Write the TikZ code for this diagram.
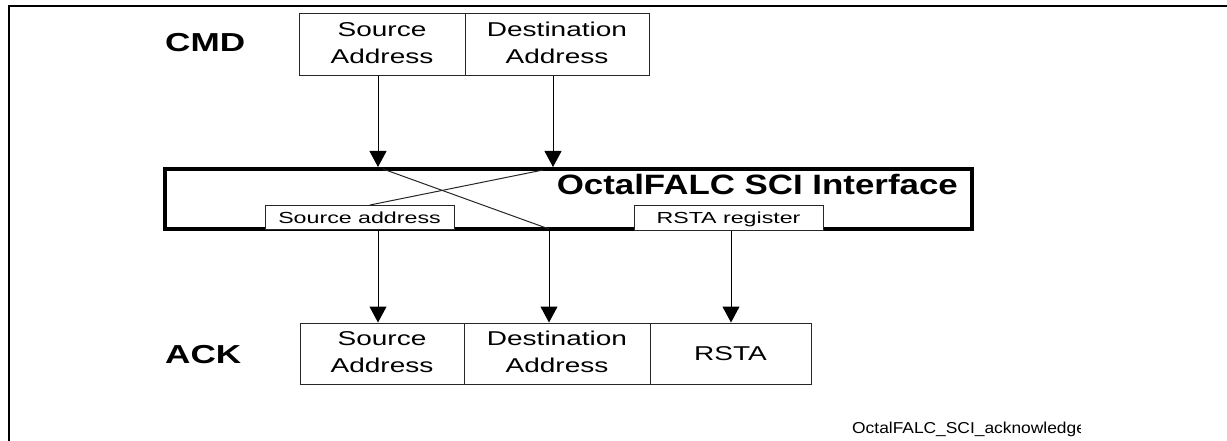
\documentclass[tikz,border=0pt]{standalone}
\usepackage{fontspec}
\setmainfont{Liberation Sans}
\usepackage{graphicx}
\usetikzlibrary{arrows.meta}
\newcommand{\hs}[2]{\scalebox{#1}[1]{#2}}
\newcommand{\twol}[2]{\begin{tabular}{@{}c@{}}#1\\#2\end{tabular}}
\begin{document}
\begin{tikzpicture}[x=1pt,y=-1pt,
  field/.style={draw=black!85, line width=1pt, fill=white, inner sep=0pt,
    minimum height=62pt, font=\fontsize{20}{27}\selectfont},
  reg/.style={draw=black!85, line width=1pt, fill=white, inner sep=0pt,
    minimum height=24pt, minimum width=189pt, text height=11.5pt, text depth=0pt,
    font=\fontsize{16}{19}\selectfont},
  lbl/.style={inner sep=0pt, font=\fontsize{26}{30}\selectfont\bfseries},
  iface/.style={draw, line width=4pt, inner sep=0pt, minimum width=807pt, minimum height=60pt},
  thinline/.style={line width=1pt, black!85},
  arr/.style={line width=1pt, black, -{Triangle[length=16pt,width=17pt]}},
  frame/.style={line width=2pt}]
\useasboundingbox (0,0) rectangle (1227,441);
% frame
\coordinate (f1) at (1227,6);
\coordinate (f2) at (9,6);
\coordinate (f3) at (9,441);
\draw[frame] (f1) -- (f2) -- (f3);
% interface
\node[iface] (iface) at (568.5,199) {};
\node[anchor=base east, inner sep=0pt, font=\fontsize{28}{32}\selectfont\bfseries] (ifacetxt) at (958,195) {\hs{1.245}{OctalFALC SCI Interface}};
% crossing lines
\coordinate (xa1) at (383,169);
\coordinate (xa2) at (549,229);
\coordinate (xb1) at (543,170);
\coordinate (xb2) at (370,205);
\draw[thinline] (xa1) -- (xa2);
\draw[thinline] (xb1) -- (xb2);
% registers
\node[reg] (srcaddr) at (359.5,217.5) {\hs{1.45}{Source address}};
\node[reg] (rstareg) at (728.5,218) {\hs{1.45}{RSTA register}};
% labels
\node[lbl, anchor=west] (cmd) at (165,43) {\hs{1.35}{CMD}};
\node[lbl, anchor=west] (ack) at (165,355) {\hs{1.35}{ACK}};
% CMD frame
\node[field, minimum width=166pt] (cmdsrc) at (382,45) {\hs{1.4}{\twol{Source}{Address}}};
\node[field, minimum width=184pt] (cmddst) at (557,45) {\hs{1.4}{\twol{Destination}{Address}}};
% ACK frame
\node[field, minimum width=164pt, minimum height=61pt] (acksrc) at (382,353.5) {\hs{1.4}{\twol{Source}{Address}}};
\node[field, minimum width=186pt, minimum height=61pt] (ackdst) at (557,353.5) {\hs{1.4}{\twol{Destination}{Address}}};
\node[field, minimum width=161pt, minimum height=61pt] (ackrsta) at (730.5,353.5) {\hs{1.4}{RSTA}};
% arrows
\coordinate (c1) at (378,0);
\coordinate (c2) at (553,0);
\coordinate (c3) at (731,0);
\draw[arr] (cmdsrc.south -| c1) -- (iface.north -| c1);
\draw[arr] (cmddst.south -| c2) -- (iface.north -| c2);
\draw[arr] (srcaddr.south -| c1) -- (acksrc.north -| c1);
\draw[arr] (xa2) -- (ackdst.north -| xa2);
\draw[arr] (rstareg.south -| c3) -- (ackrsta.north -| c3);
% footer
\begin{scope}
\clip (0,0) rectangle (1080,441);
\node[anchor=base west, inner sep=0pt, font=\fontsize{15.8}{19}\selectfont] (foot) at (852,433) {\hs{1.1}{OctalFALC\_SCI\_acknowledge}};
\end{scope}
\end{tikzpicture}
\end{document}
